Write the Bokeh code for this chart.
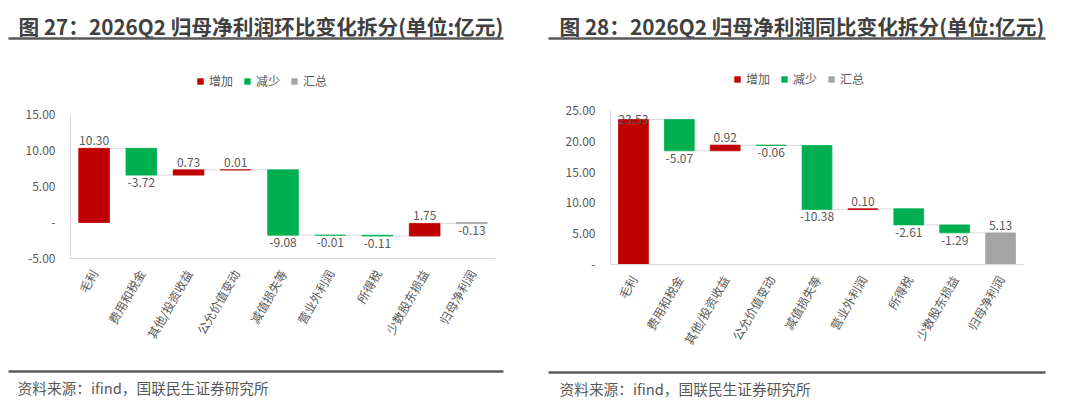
import math
from bokeh.plotting import figure
from bokeh.models import (ColumnDataSource, Legend, LegendItem,
                          NumeralTickFormatter, FixedTicker, Range1d)
from bokeh.layouts import row, column
from bokeh.embed import file_html
from bokeh.resources import INLINE
from bokeh.core.properties import value

# ---------------- data ----------------
categories = ["毛利", "费用和税金", "其他/投资收益", "公允价值变动", "减值损失等",
              "营业外利润", "所得税", "少数股东损益", "归母净利润"]
qoq_changes = [10.30, -3.72, 0.73, 0.01, -9.08, -0.01, -0.11, 1.75, -0.13]
yoy_changes = [23.53, -5.07, 0.92, -0.06, -10.38, 0.10, -2.61, -1.29, 5.13]
legend_labels = ["增加", "减少", "汇总"]
qoq_ticks = [-5, 0, 5, 10, 15]
yoy_ticks = [0, 5, 10, 15, 20, 25]
title_left = "图 27：2026Q2 归母净利润环比变化拆分(单位:亿元)"
title_right = "图 28：2026Q2 归母净利润同比变化拆分(单位:亿元)"
source_text = "资料来源：ifind，国联民生证券研究所"

# ---------------- style ----------------
FONT = "Noto Sans CJK SC"
RED, GREEN, GREY = "#C00000", "#00B050", "#A5A5A5"
TXT = "#595959"
PW = 540
HEAD_H, MAIN_H, FOOT_H = 100, 262, 57
BAR_W = 0.65


def deco_fig(h):
    f = figure(width=PW, height=h, x_range=Range1d(0, PW), y_range=Range1d(h, 0),
               x_axis_location=None, y_axis_location=None, min_border=0,
               toolbar_location=None, output_backend="svg", frame_align=False,
               background_fill_color="white", border_fill_color="white")
    f.outline_line_color = None
    f.grid.visible = False
    return f


def header(title, title_x, rule_x, legend_loc):
    f = deco_fig(HEAD_H)
    f.text(x=[title_x], y=[25], text=[title], text_baseline="middle", text_align="left",
           text_font=value(FONT), text_font_size="20.7px", text_font_style="bold",
           text_color="#404040")
    f.segment(x0=[rule_x[0]], y0=[38], x1=[rule_x[1]], y1=[38],
              line_color="#595959", line_width=2.4)
    # legend swatches (zero-size placeholder glyphs carry the colours)
    rs = [f.vbar(x=[0], top=[0], bottom=[0], width=0, fill_color=c, line_color=None)
          for c in (RED, GREEN, GREY)]
    legend = Legend(items=[LegendItem(label=l, renderers=[r]) for l, r in zip(legend_labels, rs)],
                    orientation="horizontal", location=legend_loc,
                    glyph_width=8, glyph_height=8, label_standoff=5, spacing=10,
                    padding=0, margin=0, label_height=12,
                    label_text_font=FONT, label_text_font_size="12px", label_text_color=TXT,
                    border_line_color=None, background_fill_alpha=0)
    f.add_layout(legend, "center")
    return f


def footer(rule_x, rule_y, src_x):
    f = deco_fig(FOOT_H)
    f.segment(x0=[rule_x[0]], y0=[rule_y], x1=[rule_x[1]], y1=[rule_y],
              line_color="#595959", line_width=2.4)
    f.text(x=[src_x], y=[rule_y + 16], text=[source_text], text_baseline="middle",
           text_align="left", text_font=value(FONT), text_font_size="14.7px", text_color=TXT)
    return f


def chart(changes, ticks, y_lo, y_hi, borders):
    n = len(changes)
    xs = list(range(1, n + 1))
    starts, ends = [], []
    cum = 0.0
    for i, v in enumerate(changes):
        if i < n - 1:
            starts.append(cum)
            cum += v
            ends.append(cum)
        else:
            starts.append(0.0)
            ends.append(v)
    bottoms = [min(a, b) for a, b in zip(starts, ends)]
    tops = [max(a, b) for a, b in zip(starts, ends)]

    def subset(idx):
        return ColumnDataSource(dict(x=[xs[i] for i in idx], top=[tops[i] for i in idx],
                                     bottom=[bottoms[i] for i in idx]))

    inc = [i for i in range(n - 1) if changes[i] > 0]
    dec = [i for i in range(n - 1) if changes[i] < 0]
    tot = [n - 1]

    ml, mr, mt, mb = borders
    p = figure(width=PW, height=MAIN_H, output_backend="svg", toolbar_location=None,
               x_range=Range1d(0.5, n + 0.5), y_range=Range1d(y_lo, y_hi),
               min_border_left=ml, min_border_right=mr, min_border_top=mt, min_border_bottom=mb,
               frame_align=False,
               background_fill_color="white", border_fill_color="white")
    p.outline_line_color = None
    p.xgrid.visible = False
    p.ygrid.visible = False

    # connectors
    cx0 = [xs[i] + BAR_W / 2 for i in range(n - 1)]
    cx1 = [xs[i + 1] - BAR_W / 2 for i in range(n - 1)]
    cy = [ends[i] for i in range(n - 1)]
    p.segment(x0=cx0, y0=cy, x1=cx1, y1=cy, line_color="#D9D9D9", line_width=1)

    for idx, c in ((inc, RED), (dec, GREEN), (tot, GREY)):
        p.vbar(x="x", top="top", bottom="bottom", width=BAR_W, source=subset(idx),
               fill_color=c, line_color=c, line_width=0.8)

    # data labels
    span = y_hi - y_lo
    up, mid, down = dict(x=[], y=[], t=[]), dict(x=[], y=[], t=[]), dict(x=[], y=[], t=[])
    for i, v in enumerate(changes):
        lab = f"{v:.2f}"
        if v >= 0:
            d = mid if tops[i] > y_hi - 0.08 * span else up
            d["x"].append(xs[i]); d["y"].append(tops[i]); d["t"].append(lab)
        else:
            down["x"].append(xs[i]); down["y"].append(bottoms[i]); down["t"].append(lab)
    common = dict(x="x", y="y", text="t", text_align="center", text_font=value(FONT),
                  text_font_size="12px", text_color=TXT)
    p.text(source=ColumnDataSource(up), text_baseline="bottom", y_offset=-3, **common)
    p.text(source=ColumnDataSource(mid), text_baseline="middle", **common)
    p.text(source=ColumnDataSource(down), text_baseline="top", y_offset=3, **common)

    # axes
    ya = p.yaxis[0]
    ya.ticker = FixedTicker(ticks=ticks)
    ya.formatter = NumeralTickFormatter(format="0.00")
    ya.major_label_overrides = {0: "-"}
    xa = p.xaxis[0]
    xa.ticker = FixedTicker(ticks=xs)
    xa.major_label_overrides = {x: c for x, c in zip(xs, categories)}
    xa.major_label_orientation = math.radians(60)
    for ax in (xa, ya):
        ax.axis_line_color = "#D9D9D9"
        ax.major_tick_line_color = None
        ax.minor_tick_line_color = None
        ax.major_label_text_color = TXT
        ax.major_label_text_font = FONT
        ax.major_label_text_font_size = "12px"
    ya.major_label_standoff = 9
    xa.major_label_standoff = 6
    return p


left = column(header(title_left, 18, (8, 503), (196, 11)),
              chart(qoq_changes, qoq_ticks, -5, 15, (70, 45, 14, 104)),
              footer((8, 503), 9, 17))
right = column(header(title_right, 19, (8, 505), (193, 13)),
               chart(yoy_changes, yoy_ticks, 0, 25, (70, 57, 10, 98)),
               footer((8, 505), 10, 19))

layout = row(left, right)
open("out.html", "w").write(file_html(layout, INLINE))
